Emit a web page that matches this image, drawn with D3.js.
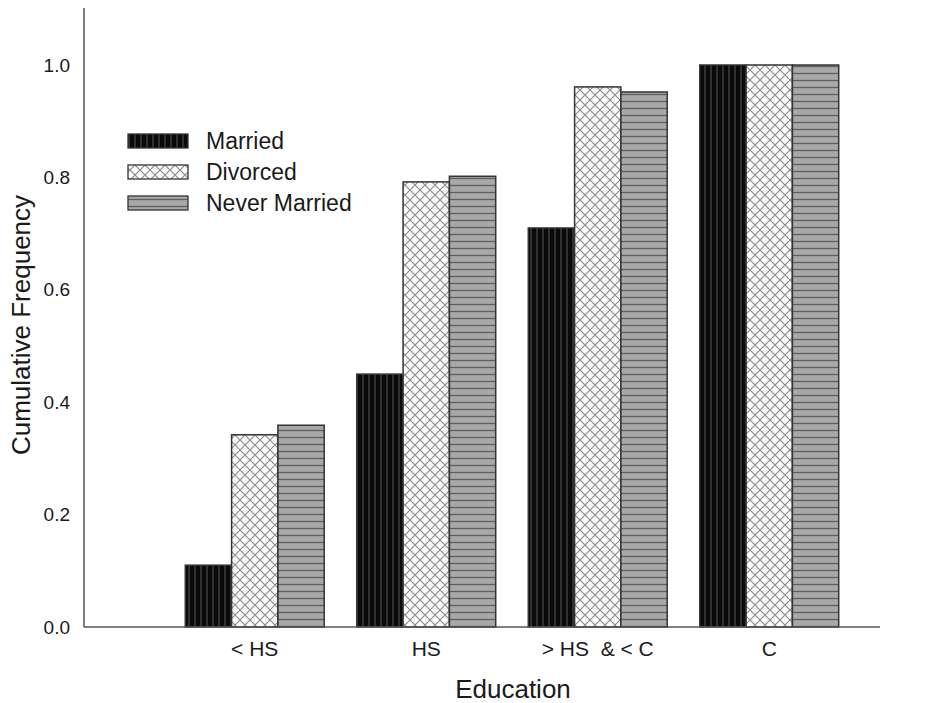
<!DOCTYPE html>
<html><head><meta charset="utf-8">
<script src="https://cdn.jsdelivr.net/npm/d3@7"></script>
<style>body{margin:0;background:#fff}svg{display:block}text{font-family:"Liberation Sans",Arial,sans-serif}</style>
</head><body>
<script>
const categories = ["< HS", "HS", "> HS  & < C", "C"];
const seriesNames = ["Married", "Divorced", "Never Married"];
const married = [0.11, 0.45, 0.71, 1.0];
const divorced = [0.342, 0.792, 0.961, 1.0];
const neverMarried = [0.359, 0.802, 0.952, 1.0];
const yTicks = [0, 0.2, 0.4, 0.6, 0.8, 1.0];
const seriesValues = [married, divorced, neverMarried];

const W = 929, H = 703;
const svg = d3.select("body").append("svg").attr("width", W).attr("height", H);
const defs = svg.append("defs");

// Patterns
const pM = defs.append("pattern").attr("id","pM").attr("patternUnits","userSpaceOnUse").attr("width",6).attr("height",6);
pM.append("rect").attr("width",6).attr("height",6).attr("fill","#0a0a0a");
pM.append("line").attr("x1",3).attr("y1",0).attr("x2",3).attr("y2",6).attr("stroke","#4a4a4a").attr("stroke-width",1.2);

const pD = defs.append("pattern").attr("id","pD").attr("patternUnits","userSpaceOnUse").attr("width",10).attr("height",10);
pD.append("rect").attr("width",10).attr("height",10).attr("fill","#fdfdfd");
pD.append("path").attr("d","M0,0L10,10M-5,5L5,15M5,-5L15,5M0,10L10,0M-5,5L5,-5M5,15L15,5").attr("stroke","#8a8a8a").attr("stroke-width",1.1);

const pN = defs.append("pattern").attr("id","pN").attr("patternUnits","userSpaceOnUse").attr("width",6).attr("height",7);
pN.append("rect").attr("width",6).attr("height",7).attr("fill","#a8a8a8");
pN.append("line").attr("x1",0).attr("y1",3.5).attr("x2",6).attr("y2",3.5).attr("stroke","#5e5e5e").attr("stroke-width",1.3);

const fills = ["url(#pM)","url(#pD)","url(#pN)"];

const x0 = 84, xEnd = 880, yBase = 627;
const y = d3.scaleLinear().domain([0, 1.1]).range([yBase, yBase - 562*1.1]);
const x = d3.scaleBand().domain(categories).range([169, 855]).paddingInner(0.19).paddingOuter(0.095);
const xs = d3.scaleBand().domain(seriesNames).range([0, x.bandwidth()]);

// bars
categories.forEach((c, i) => {
  seriesNames.forEach((s, j) => {
    const v = seriesValues[j][i];
    svg.append("rect")
      .attr("x", x(c) + xs(s)).attr("y", y(v))
      .attr("width", xs.bandwidth()).attr("height", y(0) - y(v))
      .attr("fill", fills[j]).attr("stroke", "#333").attr("stroke-width", 1.5);
  });
});

// axes
const yAxis = d3.axisLeft(y).tickValues(yTicks).tickFormat(d3.format(".1f")).tickSize(0).tickPadding(14);
const gy = svg.append("g").attr("transform", `translate(${x0},0)`).call(yAxis);
gy.select(".domain").remove();
gy.selectAll("text").attr("font-size", 19).attr("fill", "#1a1a1a").attr("font-family","Liberation Sans, Arial, sans-serif");
svg.append("line").attr("x1", x0).attr("x2", x0).attr("y1", 8).attr("y2", yBase).attr("stroke", "#555").attr("stroke-width", 1.5);

const xAxis = d3.axisBottom(x).tickSize(0).tickPadding(14);
const gx = svg.append("g").attr("transform", `translate(0,${yBase})`).call(xAxis);
gx.select(".domain").remove();
gx.selectAll("text").attr("font-size", 21).attr("fill", "#1a1a1a").attr("font-family","Liberation Sans, Arial, sans-serif").style("white-space","pre");
svg.append("line").attr("x1", x0).attr("x2", xEnd).attr("y1", yBase).attr("y2", yBase).attr("stroke", "#555").attr("stroke-width", 1.5);

// axis titles
svg.append("text").attr("x", 513).attr("y", 698).attr("text-anchor","middle").attr("font-size", 26).attr("fill","#1a1a1a").text("Education");
svg.append("text").attr("transform","translate(30,325) rotate(-90)").attr("text-anchor","middle").attr("font-size", 26).attr("fill","#1a1a1a").text("Cumulative Frequency");

// legend
const leg = svg.append("g");
seriesNames.forEach((s, j) => {
  const cy = 141 + j * 31;
  leg.append("rect").attr("x", 128).attr("y", cy - 7).attr("width", 60).attr("height", 14)
    .attr("fill", fills[j]).attr("stroke", "#333").attr("stroke-width", 1.3);
  leg.append("text").attr("x", 206).attr("y", cy + 8).attr("font-size", 23).attr("fill","#1a1a1a").text(s);
});
</script>
</body></html>
